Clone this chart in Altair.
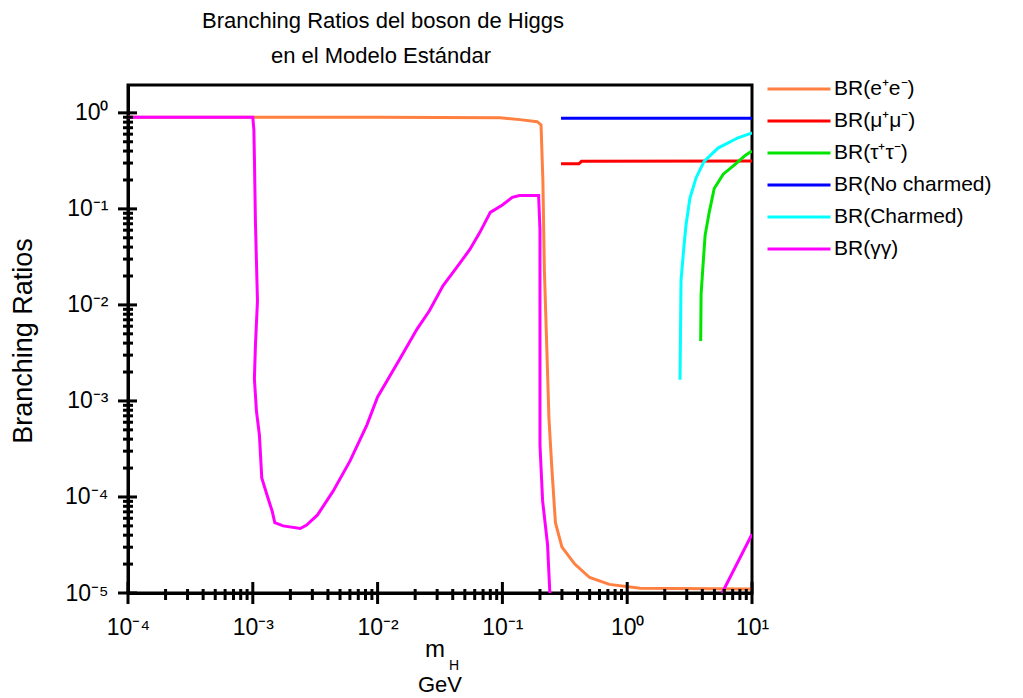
import altair as alt
import pandas as pd

# ---------------- data ----------------
series_labels = ["BR(e⁺e⁻)", "BR(μ⁺μ⁻)", "BR(τ⁺τ⁻)", "BR(No charmed)", "BR(Charmed)", "BR(γγ)"]
series_colors = ["#FF8040", "#FF0000", "#00E600", "#0000FF", "#00FFFF", "#FF00FF"]

ee_x = [1e-4, 1e-3, 0.01, 0.096, 0.138, 0.19, 0.204, 0.211, 0.217, 0.227, 0.236, 0.249,
        0.266, 0.30, 0.38, 0.50, 0.72, 1.27, 10]
ee_y = [0.90, 0.90, 0.90, 0.89, 0.85, 0.81, 0.75, 0.20, 0.023, 0.0035, 6.6e-4, 2.0e-4,
        5.4e-5, 3.0e-5, 2.0e-5, 1.45e-5, 1.23e-5, 1.12e-5, 1.1e-5]

mumu_x = [0.295, 0.41, 0.43, 10]
mumu_y = [0.295, 0.295, 0.313, 0.315]

tautau_x = [3.88, 3.91, 4.06, 4.21, 4.54, 4.98, 5.88, 7.32, 8.82, 10]
tautau_y = [4.2e-3, 0.013, 0.027, 0.053, 0.092, 0.163, 0.23, 0.29, 0.36, 0.40]

nocharm_x = [0.295, 10]
nocharm_y = [0.88, 0.88]

charm_x = [2.65, 2.70, 2.85, 2.96, 3.18, 3.56, 4.12, 5.34, 7.73, 10]
charm_y = [1.66e-3, 0.018, 0.041, 0.068, 0.129, 0.21, 0.31, 0.43, 0.55, 0.62]

gg1_x = [1e-4, 1.0e-3, 1.02e-3, 1.03e-3, 1.05e-3, 1.09e-3, 1.05e-3, 1.03e-3, 1.07e-3,
         1.13e-3, 1.18e-3, 1.30e-3, 1.43e-3, 1.5e-3, 1.75e-3, 2.4e-3, 2.7e-3, 3.3e-3,
         4.4e-3, 6.0e-3, 8.2e-3, 0.0100, 0.0151, 0.0207, 0.026, 0.0334, 0.0435, 0.055,
         0.066, 0.08, 0.1, 0.12, 0.137, 0.195, 0.20, 0.20, 0.21, 0.23, 0.24]
gg1_y = [0.90, 0.90, 0.67, 0.35, 0.072, 0.011, 3.8e-3, 1.7e-3, 7.8e-4, 4.4e-4, 1.58e-4,
         1.05e-4, 7.1e-5, 5.4e-5, 5.0e-5, 4.7e-5, 5.1e-5, 6.5e-5, 1.15e-4, 2.36e-4, 5.6e-4,
         1.1e-3, 2.75e-3, 5.6e-3, 8.7e-3, 0.0158, 0.025, 0.038, 0.057, 0.092, 0.11, 0.132,
         0.138, 0.138, 0.061, 3.5e-4, 9.1e-5, 3.2e-5, 1.0e-5]
gg2_x = [5.76, 10]
gg2_y = [1.0e-5, 4.1e-5]

x_major = [1e-4, 1e-3, 1e-2, 1e-1, 1, 10]
y_major = [1e-5, 1e-4, 1e-3, 1e-2, 1e-1, 1]
x_minor = [m * 10.0 ** k for k in range(-4, 1) for m in range(2, 10)]
y_minor = [m * 10.0 ** k for k in range(-5, 0) for m in range(2, 10)]

title_lines = ["Branching Ratios del boson de Higgs", "en el Modelo Estándar"]
y_title = "Branching Ratios"
x_title_main = "m"
x_title_sub = "H"
x_title_unit = "GeV"

# ---------------- table ----------------
parts = [
    (series_labels[0], "a", ee_x, ee_y),
    (series_labels[1], "a", mumu_x, mumu_y),
    (series_labels[2], "a", tautau_x, tautau_y),
    (series_labels[3], "a", nocharm_x, nocharm_y),
    (series_labels[4], "a", charm_x, charm_y),
    (series_labels[5], "a", gg1_x, gg1_y),
    (series_labels[5], "b", gg2_x, gg2_y),
]
rows = []
i = 0
for lab, seg, xs, ys in parts:
    for xv, yv in zip(xs, ys):
        rows.append({"series": lab, "seg": lab + seg, "x": xv, "y": yv, "i": i})
        i += 1
df = pd.DataFrame(rows)

FONT = "Liberation Sans"
W, H = 624, 508

sup = {-5: "⁻⁵", -4: "⁻⁴", -3: "⁻³", -2: "⁻²", -1: "⁻¹", 0: "⁰", 1: "¹"}
e = "round(log(datum.value)/LN10)"
label_expr = "''"
for k, s in sup.items():
    label_expr = f"({e}=={k}) ? '10{s}' : ({label_expr})"

xscale = alt.Scale(type="log", domain=[1e-4, 10], nice=False)
yscale = alt.Scale(type="log", domain=[1e-5, 1.95], nice=False)

xaxis = alt.Axis(values=x_major, labelExpr=label_expr, ticks=False, tickSize=0,
                 grid=False, domainColor="black", domainWidth=3,
                 labelFont=FONT, labelFontSize=23, labelColor="black",
                 labelPadding=23, labelFlush=False, labelOverlap=False, title=None)
yaxis = alt.Axis(values=y_major, labelExpr=label_expr, ticks=False, tickSize=0,
                 grid=False, domainColor="black", domainWidth=3,
                 labelFont=FONT, labelFontSize=23, labelColor="black",
                 labelPadding=20, labelFlush=False, labelOverlap=False, title=None)

lines = alt.Chart(df).mark_line(strokeWidth=3, clip=True).encode(
    x=alt.X("x:Q", scale=xscale, axis=xaxis, title=None),
    y=alt.Y("y:Q", scale=yscale, axis=yaxis, title=None),
    color=alt.Color("series:N",
                    scale=alt.Scale(domain=series_labels, range=series_colors),
                    sort=series_labels,
                    legend=alt.Legend(title=None, orient="none", legendX=638, legendY=-8,
                                      symbolType="stroke", symbolSize=3969,
                                      symbolStrokeWidth=3, clipHeight=24, rowPadding=8,
                                      labelFontSize=21, labelFont=FONT, labelColor="black",
                                      labelLimit=300, labelOffset=2, padding=0)),
    detail="seg:N",
    order=alt.Order("i:Q"),
)

xt_major = pd.DataFrame({"v": x_major})
xt_minor = pd.DataFrame({"v": x_minor})
yt_major = pd.DataFrame({"v": y_major})
yt_minor = pd.DataFrame({"v": y_minor})

def xrule(d, a, b):
    return alt.Chart(d).mark_rule(color="black", strokeWidth=3).encode(
        x=alt.X("v:Q", scale=xscale, axis=xaxis, title=None),
        y=alt.value(H + a), y2=alt.value(H + b))

def yrule(d, a, b):
    return alt.Chart(d).mark_rule(color="black", strokeWidth=3).encode(
        y=alt.Y("v:Q", scale=yscale, axis=yaxis, title=None),
        x=alt.value(a), x2=alt.value(b))

def txt(s, x, y, size, angle=0, baseline="alphabetic"):
    return alt.Chart(pd.DataFrame({"t": [s]})).mark_text(
        font=FONT, fontSize=size, color="black", align="center",
        baseline=baseline, angle=angle).encode(
        text="t:N", x=alt.value(x), y=alt.value(y))

chart = alt.layer(
    lines,
    xrule(xt_major, -11, 11), xrule(xt_minor, -4, 7),
    yrule(yt_major, -10, 9), yrule(yt_minor, -5, 5),
    txt(title_lines[0], 255, -57, 22),
    txt(title_lines[1], 253, -22, 22),
    txt(y_title, -104, 256, 27, angle=270, baseline="middle"),
    txt(x_title_main, 307, 572, 24),
    txt(x_title_sub, 326, 585, 14),
    txt(x_title_unit, 312, 607, 22),
).properties(
    width=W, height=H,
    autosize=alt.AutoSizeParams(type="none"),
    padding={"left": 128, "top": 85, "right": 271, "bottom": 105},
    background="white",
).configure_view(stroke="black", strokeWidth=3)

chart.save("out.html", embed_options={"renderer": "svg", "actions": False})
